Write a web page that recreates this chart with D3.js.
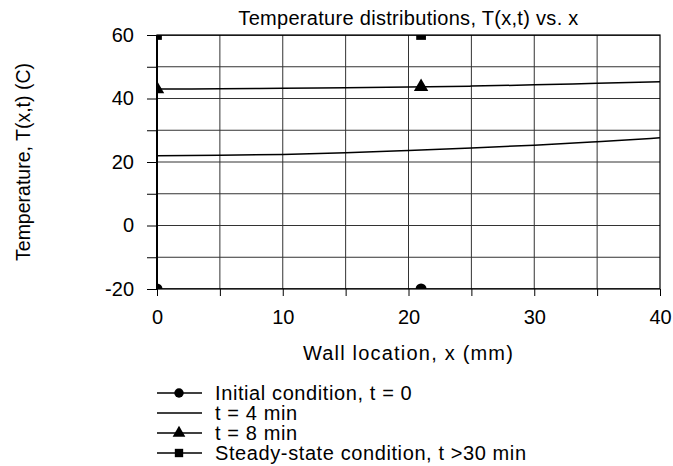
<!DOCTYPE html>
<html>
<head>
<meta charset="utf-8">
<script src="https://cdn.jsdelivr.net/npm/d3@7"></script>
<style>
  body { margin: 0; background: #fff; }
  text { font-family: "Liberation Sans", Arial, sans-serif; fill: #000; }
</style>
</head>
<body>
<div id="chart"></div>
<script>
// wall positions (mm) for the line series
var xPos = [0, 5, 10, 15, 20, 25, 30, 35, 40];
// temperatures (C) at those positions
var tInitial = [-20, -20, -20, -20, -20, -20, -20, -20, -20];
var t4min = [22.0, 22.1, 22.4, 22.9, 23.6, 24.4, 25.3, 26.4, 27.6];
var t8min = [43.0, 43.05, 43.2, 43.4, 43.6, 43.9, 44.3, 44.8, 45.3];
var tSteady = [60, 60, 60, 60, 60, 60, 60, 60, 60];

// marker positions and values
var markerX = [0, 21];
var markInitial = [-20, -20];
var mark8min = [43.0, 43.7];
var markSteady = [60, 60];

var xTicks = [0, 10, 20, 30, 40];
var yTicks = [-20, 0, 20, 40, 60];

var series = [
  { name: "Initial condition, t = 0", vals: tInitial, marks: markInitial, sym: d3.symbolCircle },
  { name: "t = 4 min", vals: t4min, marks: null, sym: null },
  { name: "t = 8 min", vals: t8min, marks: mark8min, sym: d3.symbolTriangle },
  { name: "Steady-state condition, t >30 min", vals: tSteady, marks: markSteady, sym: d3.symbolSquare }
];

var W = 673, H = 466;
var pL = 157, pR = 660, pT = 35, pB = 289;

var svg = d3.select("#chart").append("svg")
    .attr("width", W)
    .attr("height", H);

var x = d3.scaleLinear().domain([0, 40]).range([pL, pR]);
var y = d3.scaleLinear().domain([-20, 60]).range([pB, pT]);

// grid lines
svg.append("g")
    .selectAll("line")
    .data(d3.range(5, 40, 5))
    .enter().append("line")
    .attr("x1", d => x(d)).attr("x2", d => x(d))
    .attr("y1", pT).attr("y2", pB)
    .attr("stroke", "#333").attr("stroke-width", 1);

svg.append("g")
    .selectAll("line")
    .data(d3.range(-10, 60, 10))
    .enter().append("line")
    .attr("x1", pL).attr("x2", pR)
    .attr("y1", d => y(d)).attr("y2", d => y(d))
    .attr("stroke", "#333").attr("stroke-width", 1);

// axes (outward ticks)
var xAxis = svg.append("g")
    .attr("transform", "translate(0," + pB + ")")
    .call(d3.axisBottom(x).tickValues(d3.range(0, 45, 5)).tickSize(7).tickFormat(d => xTicks.indexOf(d) >= 0 ? d : ""));
xAxis.select(".domain").remove();
xAxis.selectAll("line").attr("stroke", "#000");
xAxis.selectAll("text").attr("y", 21).style("font-size", "20px").style("font-family", "Liberation Sans, Arial, sans-serif");

var yAxis = svg.append("g")
    .attr("transform", "translate(" + pL + ",0)")
    .call(d3.axisLeft(y).tickValues(d3.range(-20, 70, 10)).tickSize(10).tickFormat(d => yTicks.indexOf(d) >= 0 ? d : ""));
yAxis.select(".domain").remove();
yAxis.selectAll("line").attr("stroke", "#000");
yAxis.selectAll("text").attr("x", -23).style("font-size", "20px").style("font-family", "Liberation Sans, Arial, sans-serif");

// plot frame
svg.append("rect")
    .attr("x", pL).attr("y", pT)
    .attr("width", pR - pL).attr("height", pB - pT)
    .attr("fill", "none").attr("stroke", "#000").attr("stroke-width", 1.2);
svg.append("line")
    .attr("x1", pL).attr("x2", pL).attr("y1", pT).attr("y2", pB)
    .attr("stroke", "#000").attr("stroke-width", 2);

svg.append("clipPath").attr("id", "clip")
  .append("rect")
    .attr("x", pL).attr("y", pT)
    .attr("width", pR - pL).attr("height", pB - pT);

var plot = svg.append("g").attr("clip-path", "url(#clip)");

var line = d3.line()
    .x((d, i) => x(xPos[i]))
    .y(d => y(d))
    .curve(d3.curveMonotoneX);

series.forEach(function(s) {
  plot.append("path")
      .attr("d", line(s.vals))
      .attr("fill", "none")
      .attr("stroke", "#000")
      .attr("stroke-width", 1.5);
  if (s.marks) {
    plot.selectAll(null)
        .data(s.marks)
        .enter().append("path")
        .attr("d", d3.symbol().type(s.sym).size(s.sym === d3.symbolTriangle ? 90 : 95))
        .attr("transform", (d, i) => "translate(" + x(markerX[i]) + "," + y(d) + ")")
        .attr("fill", "#000");
  }
});

// title and axis labels
svg.append("text")
    .attr("x", (pL + pR) / 2).attr("y", 25)
    .attr("text-anchor", "middle")
    .style("font-size", "20px")
    .style("letter-spacing", "0.3px")
    .text("Temperature distributions, T(x,t) vs. x");

svg.append("text")
    .attr("x", (pL + pR) / 2).attr("y", 360)
    .attr("text-anchor", "middle")
    .style("font-size", "20px")
    .style("letter-spacing", "1.2px")
    .text("Wall location, x (mm)");

svg.append("text")
    .attr("transform", "translate(30," + ((pT + pB) / 2) + ") rotate(-90)")
    .attr("text-anchor", "middle")
    .style("font-size", "19.5px")
    .text("Temperature, T(x,t) (C)");

// legend
var legend = svg.append("g")
    .attr("transform", "translate(157,393)");

var items = legend.selectAll(".legend-item")
    .data(series)
    .enter().append("g")
    .attr("class", "legend-item")
    .attr("transform", (d, i) => "translate(0," + (i * 20) + ")");

items.append("line")
    .attr("x1", 0).attr("x2", 45)
    .attr("stroke", "#000").attr("stroke-width", 1.5);

items.filter(d => d.sym)
    .append("path")
    .attr("d", d => d3.symbol().type(d.sym).size(70)())
    .attr("transform", "translate(22,0)")
    .attr("fill", "#000");

items.append("text")
    .attr("x", 58).attr("y", 7)
    .style("font-size", "20px")
    .style("letter-spacing", "0.6px")
    .text(d => d.name);
</script>
</body>
</html>
